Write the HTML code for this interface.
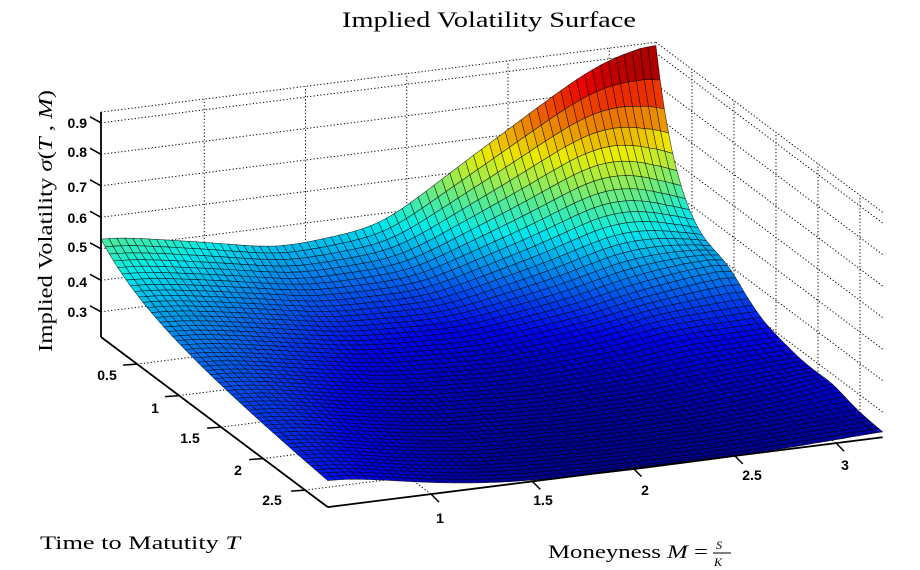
<!DOCTYPE html>
<html><head><meta charset="utf-8"><style>
html,body{margin:0;padding:0;background:#fff;}
svg{display:block;}
.tk{font-family:"Liberation Sans",sans-serif;font-weight:bold;font-size:14px;fill:#000;}
.sf{font-family:"Liberation Serif",serif;fill:#000;}
</style></head><body>
<svg id="s" width="920" height="570" viewBox="0 0 920 570" xmlns="http://www.w3.org/2000/svg">
<g id="grid" stroke="#000" stroke-width="1" stroke-dasharray="1.2,2.2" fill="none"></g>
<g id="surf" stroke="#000" stroke-opacity="0.75" stroke-width="0.6"></g>
<g id="axes" stroke="#000" stroke-width="1.8" fill="none"></g>
<text class="sf" x="342" y="27" font-size="22" textLength="294" lengthAdjust="spacingAndGlyphs">Implied Volatility Surface</text>
<text class="sf" font-size="20" transform="translate(52,352) rotate(-90)" textLength="262" lengthAdjust="spacingAndGlyphs">Implied Volatility <tspan font-style="italic">σ</tspan>(<tspan font-style="italic">T</tspan> , <tspan font-style="italic">M</tspan>)</text>
<text class="sf" x="40" y="549" font-size="19" textLength="200" lengthAdjust="spacingAndGlyphs">Time to Matutity <tspan font-style="italic">T</tspan></text>
<text class="sf" x="548" y="558" font-size="19" textLength="160" lengthAdjust="spacingAndGlyphs">Moneyness <tspan font-style="italic">M</tspan> =</text>
<text class="sf" x="716" y="549" font-size="12" font-style="italic">S</text>
<line x1="713" y1="553" x2="731" y2="553" stroke="#000" stroke-width="0.9"/>
<text class="sf" x="714" y="566" font-size="12" font-style="italic">K</text>
<g class="tk">
<text x="87" y="128" text-anchor="end">0.9</text>
<text x="87" y="157" text-anchor="end">0.8</text>
<text x="87" y="192" text-anchor="end">0.7</text>
<text x="87" y="223" text-anchor="end">0.6</text>
<text x="87" y="252" text-anchor="end">0.5</text>
<text x="87" y="287" text-anchor="end">0.4</text>
<text x="87" y="317" text-anchor="end">0.3</text>
<text x="107" y="380" text-anchor="middle">0.5</text>
<text x="155" y="413" text-anchor="middle">1</text>
<text x="190" y="443" text-anchor="middle">1.5</text>
<text x="238" y="475" text-anchor="middle">2</text>
<text x="272" y="505" text-anchor="middle">2.5</text>
<text x="440" y="523" text-anchor="middle">1</text>
<text x="543" y="505" text-anchor="middle">1.5</text>
<text x="645" y="495" text-anchor="middle">2</text>
<text x="752" y="480" text-anchor="middle">2.5</text>
<text x="845" y="470" text-anchor="middle">3</text>
</g>
</svg>
<script>
(function(){
var NS="http://www.w3.org/2000/svg";
var T0=0.07,T1=2.77,M0=0.49,M1=3.23,Z0=0.22,ZT=0.934;
function P(T,M,z){return [101+(T-T0)*84+(M-M0)*202.5, 337+(T-T0)*63-(M-M0)*25.5-(z-Z0)*315];}
function interp(t,x){if(x<=t[0][0])return t[0][1];for(var i=1;i<t.length;i++){if(x<=t[i][0]){var a=t[i-1],b=t[i];var f=(x-a[0])/(b[0]-a[0]);return a[1]+(b[1]-a[1])*f;}}return t[t.length-1][1];}
var AT=[[0.49,.33],[1.0,.27],[1.37,.22],[1.87,.25],[2.16,.37],[2.46,.49],[2.76,.61],[2.95,.68],[3.15,.715],[3.23,.715]];
var A2=[[0.49,.22],[1.0,.20],[1.37,.19],[1.87,.19],[2.16,.22],[2.46,.24],[3.23,.27]];
var TA2=[[0.49,3.5],[1.0,1.8],[1.37,1.1],[2.0,0.75],[2.5,0.75],[3.23,1.2]];
var TA1=[[0.49,.45],[2.8,.5],[3.1,.3],[3.23,.2]];
function f(T,M){var tr=T-T0;var at=interp(AT,M),a2=interp(A2,M);var a1=Math.max(0,at-a2);
var z=Z0-0.01+a1*Math.exp(-tr/interp(TA1,M))+a2*Math.exp(-tr/interp(TA2,M));
z+=0.05*Math.exp(-Math.pow(M-3.15,2)/0.03)*Math.exp(-Math.pow(tr-0.85,2)/0.08);
z+=0.015*Math.exp(-Math.pow(M-3.2,2)/0.02)*Math.exp(-Math.pow(tr-2.1,2)/0.05);
return z;}
function cl(v){return Math.max(0,Math.min(1,v));}
function jet(x){var r=cl(1.5-Math.abs(4*x-3)),g=cl(1.5-Math.abs(4*x-2)),b=cl(1.5-Math.abs(4*x-1));var k=0.92;return "rgb("+Math.round(r*255*k)+","+Math.round(g*255*k)+","+Math.round(b*255*k)+")";}
function line(g,a,b,extra){var l=document.createElementNS(NS,"line");l.setAttribute("x1",a[0]);l.setAttribute("y1",a[1]);l.setAttribute("x2",b[0]);l.setAttribute("y2",b[1]);if(extra)for(var k in extra)l.setAttribute(k,extra[k]);g.appendChild(l);}
var grid=document.getElementById("grid");
var zt=[0.3,0.4,0.5,0.6,0.7,0.8,0.9],mt=[1,1.5,2,2.5,3],tt=[0.5,1,1.5,2,2.5];
zt.forEach(function(z){line(grid,P(T0,M0,z),P(T0,M1,z));line(grid,P(T0,M1,z),P(T1,M1,z));});
mt.forEach(function(m){line(grid,P(T0,m,Z0),P(T0,m,ZT));line(grid,P(T0,m,Z0),P(T1,m,Z0));});
tt.forEach(function(t){line(grid,P(t,M1,Z0),P(t,M1,ZT));line(grid,P(t,M0,Z0),P(t,M1,Z0));});
line(grid,P(T0,M0,ZT),P(T0,M1,ZT));line(grid,P(T0,M1,ZT),P(T1,M1,ZT));
var NM=70,NT=54,zs=[];
for(var i=0;i<=NT;i++){zs[i]=[];for(var j=0;j<=NM;j++){var T=T0+(T1-T0)*i/NT,M=M0+(M1-M0)*j/NM;zs[i][j]=f(T,M);}}
for(var pass=0;pass<3;pass++){var nz=[];for(var i=0;i<=NT;i++){nz[i]=[];for(var j=0;j<=NM;j++){var s=0,w=0;for(var k=-3;k<=3;k++){var jj=j+k;if(jj<0||jj>NM)continue;var ww=4-Math.abs(k);s+=zs[i][jj]*ww;w+=ww;}nz[i][j]=s/w;}}
 for(var i=0;i<=NT;i++)for(var j=NM-2;j<=NM;j++)nz[i][j]=nz[i][j]*0.4+zs[i][j]*0.6; zs=nz;}
var mx=-1;for(var i=0;i<=NT;i++)for(var j=0;j<=NM;j++)if(zs[i][j]>mx)mx=zs[i][j];
var cmin=0.2,cmax=mx-0.005;
var cells=[];
for(var i=0;i<NT;i++)for(var j=0;j<NM;j++){var T=T0+(T1-T0)*(i+0.5)/NT,M=M0+(M1-M0)*(j+0.5)/NM;cells.push([i,j,(T-T0)*63-(M-M0)*25.5]);}
cells.sort(function(a,b){return a[2]-b[2];});
var surf=document.getElementById("surf"),html="";
cells.forEach(function(c){var i=c[0],j=c[1];var pts=[[i,j],[i,j+1],[i+1,j+1],[i+1,j]].map(function(q){var T=T0+(T1-T0)*q[0]/NT,M=M0+(M1-M0)*q[1]/NM;var p=P(T,M,zs[q[0]][q[1]]);return p[0].toFixed(1)+","+p[1].toFixed(1);});
var za=(zs[i][j]+zs[i][j+1]+zs[i+1][j]+zs[i+1][j+1])/4;
html+='<polygon points="'+pts.join(" ")+'" fill="'+jet(cl((za-cmin)/(cmax-cmin)))+'"/>';});
surf.innerHTML=html;
var ax=document.getElementById("axes");
line(ax,[101,112],[101,337]);line(ax,[101,337],P(T1,M0,Z0));line(ax,P(T1,M0,Z0),P(T1,M1,Z0));
zt.forEach(function(z){var p=P(T0,M0,z);line(ax,[p[0]-11,p[1]-6],p,{"stroke-width":"1.5"});});
tt.forEach(function(t){var p=P(t,M0,Z0);line(ax,[p[0]-14,p[1]+1],p,{"stroke-width":"1.5"});});
mt.forEach(function(m){var p=P(T1,m,Z0);line(ax,p,[p[0]+8,p[1]+8],{"stroke-width":"1.5"});});
})();
</script>
</body></html>
